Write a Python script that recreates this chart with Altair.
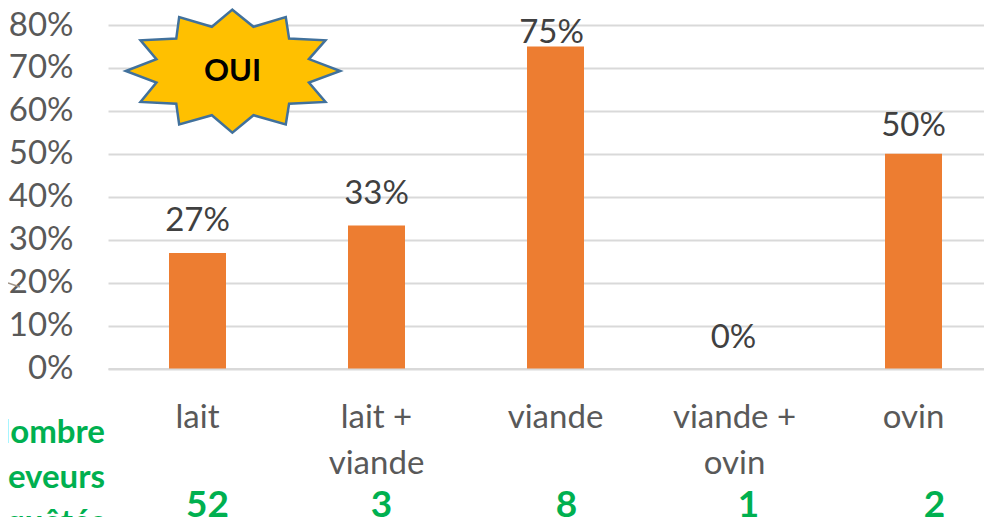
import altair as alt
import pandas as pd

categories = ["lait", "lait + viande", "viande", "viande + ovin", "ovin"]
shares = [0.269, 0.333, 0.75, 0.0, 0.5]
share_labels = ["27%", "33%", "75%", "0%", "50%"]
counts = ["52", "3", "8", "1", "2"]
row_title = ["Nombre", "d'éleveurs", "enquêtés"]
y_ticks = [0, 0.1, 0.2, 0.3, 0.4, 0.5, 0.6, 0.7, 0.8]

label_offsets = [(0, -15), (0, -15), (-4, 4), (-1, -14), (0, -11)]
count_offsets = [10, 5, 11, 14, 21]

FONT = "Lato"
df = pd.DataFrame({"cat": categories, "share": shares, "label": share_labels, "count": counts})

x_scale = alt.Scale(domain=categories, range=[0, 895], paddingInner=0, paddingOuter=0)
x = alt.X("cat:N", sort=categories, title=None, scale=x_scale,
          axis=alt.Axis(labelAngle=0, ticks=False, domain=True, domainColor="#D9D9D9", domainWidth=2,
                        labelFont=FONT, labelFontSize=33, labelColor="#595959", labelPadding=49,
                        labelLineHeight=46, labelBaseline="middle", labelLimit=300,
                        labelExpr="datum.value == 'lait + viande' ? ['lait +','viande'] : datum.value == 'viande + ovin' ? ['viande +','ovin'] : datum.value"))
y = alt.Y("share:Q", title=None,
          scale=alt.Scale(domain=[0, 0.8], nice=False),
          axis=alt.Axis(values=y_ticks, format=".0%", ticks=False, domain=False, grid=True,
                        gridColor="#D9D9D9", gridWidth=2, labelFont=FONT, labelFontSize=33,
                        labelColor="#595959", labelPadding=35, labelBaseline="middle"))

bars = alt.Chart(df).mark_bar(color="#ED7D31", size=57).encode(x=x, y=y)
layers = [bars]

x_plain = alt.X("cat:N", sort=categories, title=None, scale=x_scale)
for i, (dx, dy) in enumerate(label_offsets):
    layers.append(alt.Chart(df.iloc[[i]]).mark_text(font=FONT, fontSize=33, color="#404040", baseline="bottom", dx=dx, dy=dy)
                  .encode(x=x_plain, y=alt.Y("share:Q"), text="label:N"))
for i, dx in enumerate(count_offsets):
    layers.append(alt.Chart(df.iloc[[i]]).mark_text(font=FONT, fontSize=37, fontWeight="bold", color="#00B050", dx=dx)
                  .encode(x=x_plain, y=alt.value(481), text="count:N"))

for i, line in enumerate(row_title):
    layers.append(alt.Chart(pd.DataFrame({"t": [line]})).mark_text(font=FONT, fontSize=33, fontWeight="bold", color="#00B050", align="right")
                  .encode(x=alt.value(-3), y=alt.value(408 + 45 * i), text="t:N"))

star_pts = [(698,25),(762,77),(860,48),(870,113),(980,118),(930,175),(1025,211),(930,246),(980,305),(870,310),(860,373),(762,345),(698,398),(636,345),(537,373),(528,310),(420,305),(468,246),(375,211),(468,175),(420,118),(528,113),(537,48),(636,77)]
path = "M" + " L".join(f"{(a-700)/325:.3f},{(b-211)/325:.3f}" for a, b in star_pts) + " Z"
layers.append(alt.Chart(pd.DataFrame({"t": ["OUI"]})).mark_point(shape=path, filled=True, fill="#FFC000", stroke="#41719C", strokeWidth=2.5, opacity=1, size=46000)
              .encode(x=alt.value(125), y=alt.value(46)))
layers.append(alt.Chart(pd.DataFrame({"t": ["OUI"]})).mark_text(font=FONT, fontSize=31, fontWeight="bold", color="#000000")
              .encode(x=alt.value(124.5), y=alt.value(47), text="t:N"))
layers.append(alt.Chart(pd.DataFrame({"t": ["x"]})).mark_rule(color="#A09488", strokeWidth=1.5)
              .encode(x=alt.value(-100), x2=alt.value(-88), y=alt.value(258), y2=alt.value(262)))

chart = alt.layer(*layers).resolve_scale(x="shared", y="shared").properties(
    width=876, height=343.5,
    padding={"left": 100, "top": 17, "right": 0, "bottom": 148},
    autosize=alt.AutoSizeParams(type="none"),
    background="#FFFFFF",
).configure_view(stroke=None)

chart.save("out.html", embed_options={"renderer": "svg", "actions": False})
